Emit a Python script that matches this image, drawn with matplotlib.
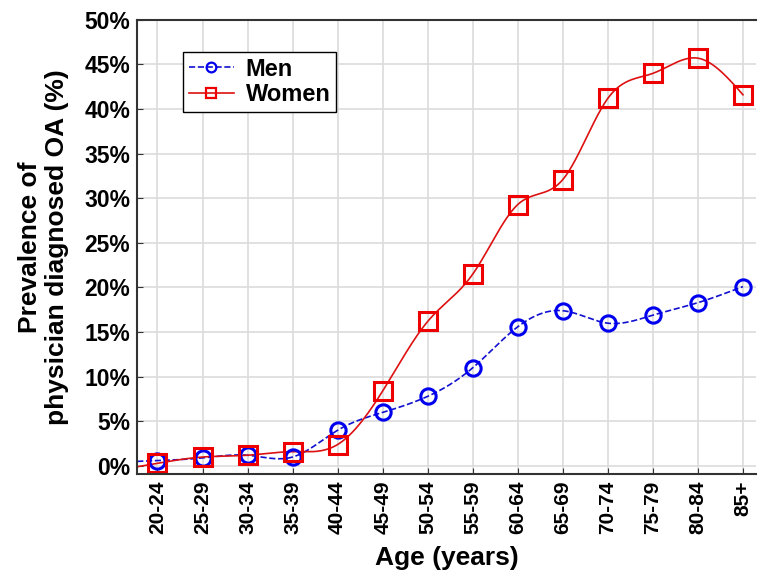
import numpy as np
import matplotlib.pyplot as plt
from matplotlib.ticker import FuncFormatter

ages = ["20-24", "25-29", "30-34", "35-39", "40-44", "45-49", "50-54",
        "55-59", "60-64", "65-69", "70-74", "75-79", "80-84", "85+"]
men = [0.6, 0.9, 1.2, 1.0, 4.0, 6.0, 7.8, 11.0, 15.6, 17.4, 16.0, 16.9, 18.3, 20.1]
women = [0.3, 1.0, 1.2, 1.6, 2.4, 8.4, 16.2, 21.5, 29.3, 32.1, 41.2, 44.0, 45.7, 41.6]

plt.rcParams['font.family'] = ['Liberation Sans', 'DejaVu Sans']
plt.rcParams['font.weight'] = 'bold'


def spline(x, y, xs):
    # natural cubic spline, extended linearly past the ends
    x = np.asarray(x, float)
    y = np.asarray(y, float)
    n = len(x)
    h = np.diff(x)
    A = np.zeros((n, n))
    b = np.zeros(n)
    A[0, 0] = A[-1, -1] = 1
    for i in range(1, n - 1):
        A[i, i - 1] = h[i - 1]
        A[i, i] = 2 * (h[i - 1] + h[i])
        A[i, i + 1] = h[i]
        b[i] = 6 * ((y[i + 1] - y[i]) / h[i] - (y[i] - y[i - 1]) / h[i - 1])
    m = np.linalg.solve(A, b)
    out = np.empty_like(xs)
    for k, t in enumerate(xs):
        if t < x[0]:
            d = (y[1] - y[0]) / h[0] - h[0] * (2 * m[0] + m[1]) / 6
            out[k] = y[0] + d * (t - x[0])
            continue
        i = min(np.searchsorted(x, t, side='right') - 1, n - 2)
        a = x[i + 1] - t
        c = t - x[i]
        out[k] = (m[i] * a**3 + m[i + 1] * c**3) / (6 * h[i]) \
            + (y[i] / h[i] - m[i] * h[i] / 6) * a \
            + (y[i + 1] / h[i] - m[i + 1] * h[i] / 6) * c
    return out


fig = plt.figure(figsize=(7.58, 5.83), dpi=100)
ax = fig.add_axes([0.181, 0.187, 0.817, 0.779])

x = np.arange(len(ages))
xs = np.linspace(-0.45, len(ages) - 1, 600)

ax.plot(xs, spline(x, men, xs), '--', color='#1010d0', lw=1.2)
ax.plot(xs, spline(x, women, xs), '-', color='#dd1111', lw=1.2)
ax.plot(x, men, 'o', mfc='none', mec='#0000ee', ms=11, mew=2.2)
ax.plot(x, women, 's', mfc='none', mec='#ee0000', ms=12.5, mew=2.2)

# legend proxies
ax.plot([], [], '--o', color='#1010d0', mec='#0000ee', mfc='none', ms=7, mew=1.6,
        lw=1.2, label='Men')
ax.plot([], [], '-s', color='#dd1111', mec='#ee0000', mfc='none', ms=7, mew=1.6,
        lw=1.2, label='Women')
handles, labels = ax.get_legend_handles_labels()
leg = ax.legend(handles, labels, loc='upper left', bbox_to_anchor=(0.074, 0.93),
                fancybox=False, edgecolor='black', framealpha=1, fontsize=17,
                handlelength=1.9, handletextpad=0.5, borderpad=0.25,
                labelspacing=0.1, borderaxespad=0)
leg.get_frame().set_linewidth(1.0)

ax.set_xlim(-0.45, 13.3)
ax.set_ylim(-0.9, 50)
ax.set_yticks(np.arange(0, 51, 5))
ax.yaxis.set_major_formatter(FuncFormatter(lambda v, p: f"{v:.0f}%"))
ax.set_xticks(x)
ax.set_xticklabels(ages, rotation=90)
ax.tick_params(direction='in', length=4, color='#333333')
ax.tick_params(axis='x', labelsize=15, pad=5)
ax.tick_params(axis='y', labelsize=16.5, pad=5)
for lab in ax.get_xticklabels() + ax.get_yticklabels():
    lab.set_fontweight('bold')

ax.grid(True, color='#dcdcdc', lw=1.2)
ax.set_axisbelow(True)
ax.spines['right'].set_visible(False)
for s in ['left', 'bottom', 'top']:
    ax.spines[s].set_linewidth(1.5)
    ax.spines[s].set_color('#333333')

ax.set_xlabel('Age (years)', fontsize=19, fontweight='bold', labelpad=8)
ax.set_ylabel('Prevalence of\nphysician diagnosed OA (%)', fontsize=19,
              fontweight='bold', labelpad=11, linespacing=1.15)

fig.savefig('out.png', dpi=100)
